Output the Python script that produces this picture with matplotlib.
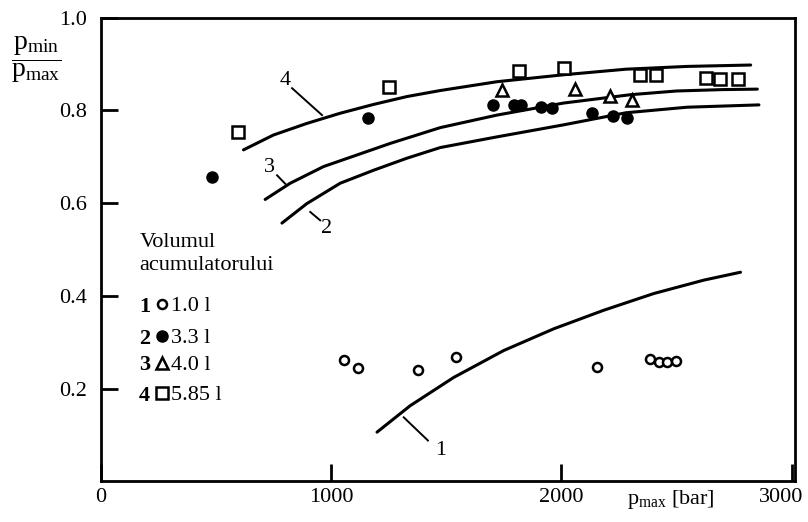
import numpy as np
import matplotlib
matplotlib.use("Agg")
import matplotlib.pyplot as plt
from matplotlib.transforms import ScaledTranslation

plt.rcParams['font.family'] = ['Liberation Serif', 'DejaVu Serif']
plt.rcParams['mathtext.fontset'] = 'custom'
plt.rcParams['mathtext.rm'] = 'Liberation Serif'
plt.rcParams['mathtext.it'] = 'Liberation Serif:italic'

# curves (p_max [bar], p_min/p_max)
c1_x = [1199, 1343, 1532, 1749, 1967, 2184, 2401, 2619, 2778]
c1_y = [0.106, 0.163, 0.224, 0.282, 0.329, 0.369, 0.405, 0.434, 0.451]
c2_x = [786, 894, 1039, 1184, 1329, 1474, 1720, 2010, 2280, 2546, 2858]
c2_y = [0.557, 0.599, 0.643, 0.671, 0.697, 0.720, 0.743, 0.769, 0.795, 0.807, 0.812]
c3_x = [713, 822, 967, 1112, 1257, 1474, 1720, 2010, 2300, 2500, 2700, 2851]
c3_y = [0.608, 0.643, 0.679, 0.704, 0.729, 0.763, 0.790, 0.816, 0.834, 0.842, 0.845, 0.846]
c4_x = [619, 749, 894, 1039, 1184, 1329, 1474, 1720, 2010, 2280, 2546, 2822]
c4_y = [0.715, 0.747, 0.772, 0.794, 0.813, 0.830, 0.843, 0.862, 0.877, 0.889, 0.895, 0.898]

# measured points
v1_x = [1054, 1115, 1375, 1543, 2155, 2384, 2423, 2459, 2496]
v1_y = [0.261, 0.245, 0.241, 0.268, 0.246, 0.264, 0.257, 0.257, 0.260]
v2_x = [483, 1162, 1703, 1793, 1825, 1910, 1957, 2133, 2225, 2283]
v2_y = [0.656, 0.783, 0.812, 0.812, 0.812, 0.808, 0.806, 0.795, 0.788, 0.783]
v3_x = [1742, 2061, 2210, 2307]
v3_y = [0.844, 0.846, 0.831, 0.823]
v4_x = [593, 1249, 1814, 2010, 2343, 2409, 2626, 2688, 2767]
v4_y = [0.753, 0.851, 0.886, 0.891, 0.877, 0.877, 0.870, 0.867, 0.867]

legend_nums = ['1', '2', '3', '4']
legend_vols = ['1.0 l', '3.3 l', '4.0 l', '5.85 l']

fig = plt.figure(figsize=(8.08, 5.22), dpi=100)
ax = fig.add_axes([0.125, 0.078, 0.859, 0.888])

lw = 2.2
for cx, cy in [(c1_x, c1_y), (c2_x, c2_y), (c3_x, c3_y), (c4_x, c4_y)]:
    ax.plot(cx, cy, color='black', lw=lw, solid_capstyle='round',
            solid_joinstyle='round')

ax.plot(v1_x, v1_y, 'o', ms=6.5, mfc='white', mec='black', mew=1.8, ls='none')
ax.plot(v2_x, v2_y, 'o', ms=8, mfc='black', mec='black', ls='none')
ax.plot(v3_x, v3_y, '^', ms=9, mfc='white', mec='black', mew=1.8, ls='none')
ax.plot(v4_x, v4_y, 's', ms=8, mfc='white', mec='black', mew=1.8, ls='none')

# curve labels with leader lines
fs = 16
ax.text(798, 0.864, '4', fontsize=fs, ha='center', va='center')
ax.plot([830, 960], [0.848, 0.790], color='black', lw=1.4)
ax.text(732, 0.676, '3', fontsize=fs, ha='center', va='center')
ax.plot([765, 800], [0.660, 0.642], color='black', lw=1.4)
ax.text(980, 0.545, '2', fontsize=fs, ha='center', va='center')
ax.plot([909, 952], [0.581, 0.563], color='black', lw=1.4)
ax.text(1474, 0.066, '1', fontsize=fs, ha='center', va='center')
ax.plot([1315, 1420], [0.138, 0.088], color='black', lw=1.4)

# legend block
ax.text(168, 0.516, 'Volumul', fontsize=fs, ha='left', va='center')
ax.text(168, 0.466, 'acumulatorului', fontsize=fs, ha='left', va='center')
leg_y = [0.377, 0.308, 0.250, 0.185]
leg_m = [dict(marker='o', ms=6.5, mfc='white', mew=1.8),
         dict(marker='o', ms=8, mfc='black'),
         dict(marker='^', ms=9, mfc='white', mew=1.8),
         dict(marker='s', ms=8, mfc='white', mew=1.8)]
for num, vol, yy, mk in zip(legend_nums, legend_vols, leg_y, leg_m):
    ax.text(165, yy, num, fontsize=fs, fontweight='bold', ha='left', va='center')
    ax.plot([265], [yy + 0.005], color='black', mec='black', ls='none', **mk)
    ax.text(305, yy, vol, fontsize=fs, ha='left', va='center')

ax.set_xlim(0, 3015)
ax.set_ylim(0, 1.0)
ax.set_xticks([0, 1000, 2000, 3000])
ax.set_xticklabels(['0', '1000', '2000', '3000'])
ax.set_yticks([0.2, 0.4, 0.6, 0.8, 1.0])
ax.set_yticklabels(['0.2', '0.4', '0.6', '0.8', '1.0'])
ax.tick_params(axis='both', direction='in', length=12, width=2, labelsize=fs,
               colors='black')
ax.tick_params(axis='x', pad=5)
ax.tick_params(axis='y', pad=10)
for s in ax.spines.values():
    s.set_linewidth(2)

last = ax.get_xticklabels()[-1]
last.set_transform(last.get_transform() + ScaledTranslation(-0.1, 0, fig.dpi_scale_trans))

fig.text(0.045, 0.885, r'$\dfrac{\mathrm{p}_{\mathrm{min}}}{\mathrm{p}_{\mathrm{max}}}$',
         fontsize=20, ha='center', va='center')
fig.text(0.830, 0.043, r'$\mathrm{p}_{\mathrm{max}}$' + ' [bar]', fontsize=fs,
         ha='center', va='center')

fig.savefig('out.png', dpi=100)
